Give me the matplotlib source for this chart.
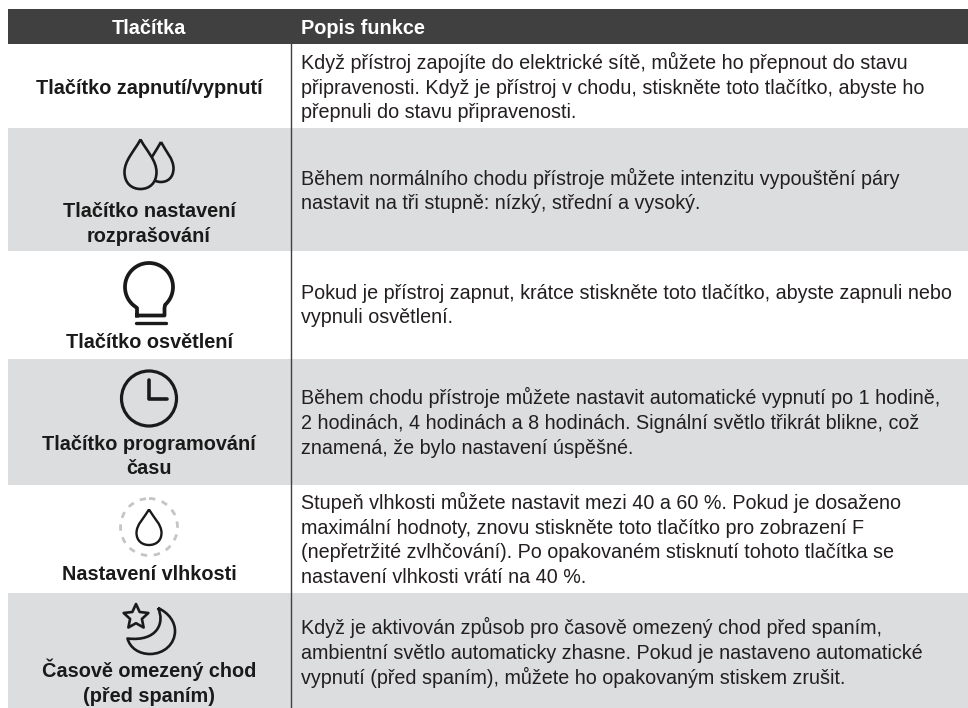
import numpy as np
import matplotlib
matplotlib.use("Agg")
import matplotlib.pyplot as plt
from matplotlib.patches import Rectangle, Circle, PathPatch, Polygon
from matplotlib.path import Path

plt.rcParams['font.family'] = ['Liberation Sans', 'DejaVu Sans']

headers = ["Tlačítka", "Popis funkce"]
button_labels = [
    ["Tlačítko zapnutí/vypnutí"],
    ["Tlačítko nastavení", "rozprašování"],
    ["Tlačítko osvětlení"],
    ["Tlačítko programování", "času"],
    ["Nastavení vlhkosti"],
    ["Časově omezený chod", "(před spaním)"],
]
button_label_y = [
    [93.5],
    [217, 242],
    [347.5],
    [450, 474.5],
    [579.5],
    [677, 702],
]
descriptions = [
    ["Když přístroj zapojíte do elektrické sítě, můžete ho přepnout do stavu",
     "připravenosti. Když je přístroj v chodu, stiskněte toto tlačítko, abyste ho",
     "přepnuli do stavu připravenosti."],
    ["Během normálního chodu přístroje můžete intenzitu vypouštění páry",
     "nastavit na tři stupně: nízký, střední a vysoký."],
    ["Pokud je přístroj zapnut, krátce stiskněte toto tlačítko, abyste zapnuli nebo",
     "vypnuli osvětlení."],
    ["Během chodu přístroje můžete nastavit automatické vypnutí po 1 hodině,",
     "2 hodinách, 4 hodinách a 8 hodinách. Signální světlo třikrát blikne, což",
     "znamená, že bylo nastavení úspěšné."],
    ["Stupeň vlhkosti můžete nastavit mezi 40 a 60 %. Pokud je dosaženo",
     "maximální hodnoty, znovu stiskněte toto tlačítko pro zobrazení F",
     "(nepřetržité zvlhčování). Po opakovaném stisknutí tohoto tlačítka se",
     "nastavení vlhkosti vrátí na 40 %."],
    ["Když je aktivován způsob pro časově omezený chod před spaním,",
     "ambientní světlo automaticky zhasne. Pokud je nastaveno automatické",
     "vypnutí (před spaním), můžete ho opakovaným stiskem zrušit."],
]
row_edges = [44, 128, 251, 359, 485, 593, 708]
row_colors = ["#ffffff", "#dcddde", "#ffffff", "#dcddde", "#ffffff", "#dcddde"]
desc_center_y = [93.5, 197, 311, 429, 546, 659]

W, H = 968, 708
fig = plt.figure(figsize=(W/100, H/100), dpi=100, facecolor="white")
ax = fig.add_axes([0, 0, 1, 1])
ax.set_xlim(0, W); ax.set_ylim(H, 0); ax.axis("off")

L, D, R = 7.5, 290.5, 968
CX = 149
INK = "#1a1a1a"
BODY = 14.2
BOLD = 14.3
ax.add_patch(Rectangle((L, 9), R-L, 35, fc="#404041", ec="none"))
ax.text(CX, 33.6, headers[0], color="white", fontsize=BOLD, fontweight="bold", ha="center", va="baseline")
ax.text(301, 33.6, headers[1], color="white", fontsize=BOLD, fontweight="bold", ha="left", va="baseline")

for i, col in enumerate(row_colors):
    ax.add_patch(Rectangle((L, row_edges[i]), R-L, row_edges[i+1]-row_edges[i], fc=col, ec="none"))
ax.plot([D, D], [9, H], color="#404041", lw=1.0, solid_capstyle="butt")

for labels, ys in zip(button_labels, button_label_y):
    for s, y in zip(labels, ys):
        ax.text(CX, y, s, color=INK, fontsize=BOLD, fontweight="bold", ha="center", va="baseline")

LINE = 24.6
for lines, cy in zip(descriptions, desc_center_y):
    n = len(lines)
    for j, s in enumerate(lines):
        ax.text(301, cy + (j-(n-1)/2)*LINE, s, color="#231f20", fontsize=BODY, ha="left", va="baseline")

def drop(cx, top, w, h, lw, z=3, fc="none"):
    b = top+h
    v = [(cx, top), (cx-w*0.2, top+h*0.24), (cx-w/2, top+h*0.42), (cx-w/2, top+h*0.66),
         (cx-w/2, b-h*0.12), (cx-w*0.28, b), (cx, b),
         (cx+w*0.28, b), (cx+w/2, b-h*0.12), (cx+w/2, top+h*0.66),
         (cx+w/2, top+h*0.42), (cx+w*0.2, top+h*0.24), (cx, top)]
    c = [Path.MOVETO] + [Path.CURVE4]*12
    ax.add_patch(PathPatch(Path(v, c), fc=fc, ec=INK, lw=lw, zorder=z, joinstyle="round"))

# two drops
drop(161, 142, 25, 40, 1.9, z=3)
drop(140.5, 139.5, 32, 49.5, 1.9, z=4, fc="#dcddde")

# bulb
t = np.deg2rad(np.linspace(228, -48, 80))
bx = 149 + 24*np.cos(t); by = 287 - 24*np.sin(t)
bulb = [(137, 315.5), (137, 308)] + list(zip(bx, by)) + [(164.5, 308), (164.5, 315.5), (137, 315.5)]
ax.plot(*zip(*bulb), color=INK, lw=2.7, solid_joinstyle="round", zorder=3)
ax.plot([136, 165.5], [322.5, 322.5], color=INK, lw=2.4, solid_capstyle="round", zorder=3)

# clock
ax.add_patch(Circle((149, 398.5), 27.5, fc="none", ec=INK, lw=2.3, zorder=3))
ax.plot([149, 149, 167], [380, 398.5, 398.5], color=INK, lw=2.6, solid_joinstyle="round", solid_capstyle="round", zorder=3)

# humidity
ax.add_patch(Circle((149, 527), 28.5, fc="none", ec="#c4c5c6", lw=2.0, ls=(0, (2.3, 2.4)), zorder=3))
drop(149, 509.5, 25, 35.5, 1.7)

# star + moon
a = np.deg2rad(90 + np.arange(10)*36)
r = np.where(np.arange(10) % 2 == 0, 13, 6.2)
ax.add_patch(Polygon(np.c_[136 + r*np.cos(a), 617 - r*np.sin(a)], closed=True, fc="none", ec=INK, lw=1.9, joinstyle="round", zorder=3))
mv = [(158, 608), (169, 613), (175, 622), (175, 631),
      (175, 644), (164, 654), (150, 654),
      (139, 654), (130, 648), (127.5, 638.5),
      (158, 642), (165, 622), (158, 608)]
mc = [Path.MOVETO] + [Path.CURVE4]*12
ax.add_patch(PathPatch(Path(mv, mc), fc="none", ec=INK, lw=1.9, zorder=3, joinstyle="round"))

fig.savefig("out.png", dpi=100, facecolor="white")
